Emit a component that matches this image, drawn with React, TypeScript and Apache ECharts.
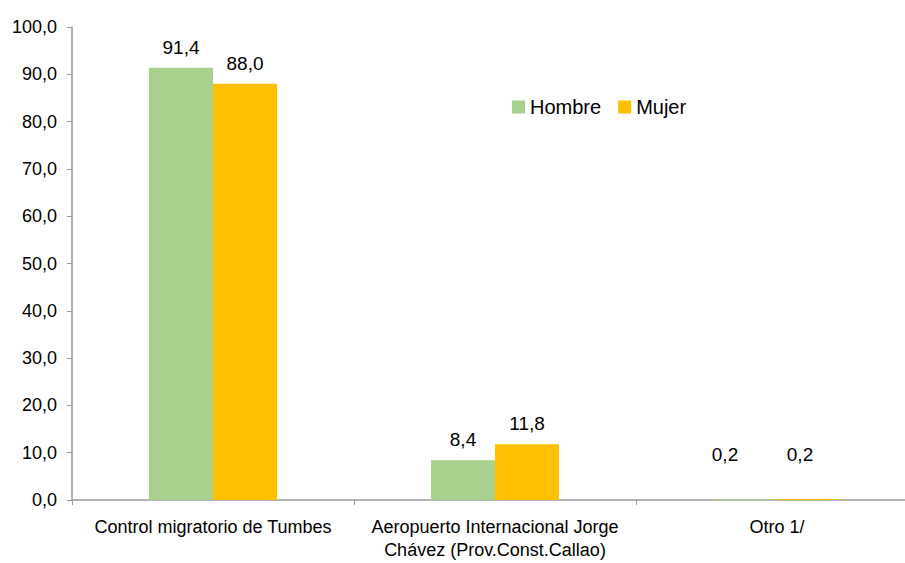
import React, { useEffect, useRef } from "react";
import * as echarts from "echarts";

const categories = [
  "Control migratorio de Tumbes",
  "Aeropuerto Internacional Jorge\nChávez (Prov.Const.Callao)",
  "Otro 1/",
];
const hombre = [91.4, 8.4, 0.2];
const mujer = [88.0, 11.8, 0.2];
const yTicks = { min: 0, max: 100, interval: 10 };

const FONT = "'Liberation Sans', Arial, sans-serif";
const fmt = (v: number) => v.toFixed(1).replace(".", ",");

export default function App() {
  const ref = useRef<HTMLDivElement>(null);
  useEffect(() => {
    if (!ref.current) return;
    const chart = echarts.init(ref.current, undefined, { renderer: "svg" });
    const mkData = (arr: number[], dx: number) =>
      arr.map((v, i) => ({
        value: v,
        label: i === 2 ? { distance: 35, offset: [dx, 0] } : undefined,
      }));
    const labelCfg = {
      show: true,
      position: "top" as const,
      distance: 11,
      color: "#000",
      fontFamily: FONT,
      fontSize: 19,
      formatter: (p: any) => fmt(p.value),
    };
    chart.setOption({
      animation: false,
      backgroundColor: "#fff",
      textStyle: { fontFamily: FONT },
      legend: {
        left: 507,
        top: 92,
        itemWidth: 13,
        itemHeight: 13,
        itemGap: 17,
        textStyle: { fontFamily: FONT, fontSize: 20, color: "#000" },
        data: ["Hombre", "Mujer"],
        icon: "rect",
      },
      grid: {
        left: 72,
        top: 27,
        width: 846,
        bottom: 63,
        containLabel: false,
        outerBoundsMode: "none",
      },
      xAxis: {
        type: "category",
        data: categories,
        axisLine: { lineStyle: { color: "#9a9a9a", width: 1.5 } },
        axisTick: { show: true, length: 5, lineStyle: { color: "#9a9a9a" } },
        axisLabel: {
          color: "#000",
          fontFamily: FONT,
          fontSize: 18,
          margin: 15,
          lineHeight: 23,
          interval: 0,
        },
      },
      yAxis: {
        type: "value",
        min: yTicks.min,
        max: yTicks.max,
        interval: yTicks.interval,
        splitLine: { show: false },
        axisLine: { show: true, lineStyle: { color: "#9a9a9a", width: 1.5 } },
        axisTick: { show: true, length: 5, lineStyle: { color: "#9a9a9a" } },
        axisLabel: {
          color: "#000",
          fontFamily: FONT,
          fontSize: 18,
          margin: 15,
          formatter: (v: number) => fmt(v),
        },
      },
      series: [
        {
          name: "Hombre",
          type: "bar",
          data: mkData(hombre, -20),
          barWidth: 64,
          barGap: "0%",
          itemStyle: { color: "#A9D18E" },
          label: labelCfg,
        },
        {
          name: "Mujer",
          type: "bar",
          data: mkData(mujer, -9),
          barWidth: 64,
          barGap: "0%",
          itemStyle: { color: "#FFC000" },
          label: labelCfg,
        },
      ],
    });
    return () => chart.dispose();
  }, []);
  return (
    <div
      ref={ref}
      style={{ position: "absolute", left: 0, top: 0, width: 905, height: 563 }}
    />
  );
}
